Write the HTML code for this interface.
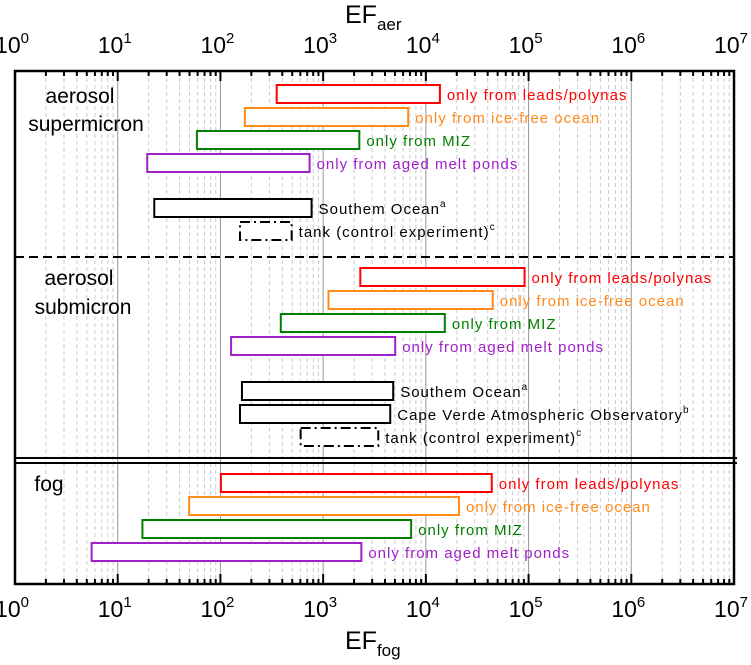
<!DOCTYPE html>
<html><head><meta charset="utf-8"><style>
body{margin:0;background:#fff;}
svg text{font-family:"Liberation Sans",Arial,sans-serif;}
</style></head><body>
<svg id="chart" width="751" height="660" viewBox="0 0 751 660" xmlns="http://www.w3.org/2000/svg">
<g id="grid"></g>
<g id="bars"></g>
<g id="axes"></g>
<text x="80" y="103" font-size="21" text-anchor="middle">aerosol</text>
<text x="86" y="131" font-size="21" text-anchor="middle">supermicron</text>
<text x="79" y="285" font-size="21" text-anchor="middle">aerosol</text>
<text x="83" y="314" font-size="21" text-anchor="middle">submicron</text>
<text x="49" y="491" font-size="21" text-anchor="middle">fog</text>
<text x="345" y="23" font-size="25">EF<tspan font-size="17" dy="7">aer</tspan></text>
<text x="345" y="649" font-size="25">EF<tspan font-size="17" dy="7">fog</tspan></text>
</svg>
<script>
const decades = [0,1,2,3,4,5,6,7];
const labels = ["only from leads/polynas","only from ice-free ocean","only from MIZ","only from aged melt ponds","Southem Ocean","Cape Verde Atmospheric Observatory","tank (control experiment)"];
const supers = ["","","","","a","b","c"];
const colors = ["#ff0000","#ff8a1a","#007f00","#a020c8","#000000","#000000","#000000"];
const barSeries = [0,1,2,3,4,6, 0,1,2,3,4,5,6, 0,1,2,3];
const barLow  = [353,173,59,19.4,22.7,155, 2300,1128,387,127,162,155,604, 101,49.6,17.4,5.57];
const barHigh = [13700,6730,2250,738,772,494, 91400,44800,15300,5030,4810,4500,3440, 43800,21000,7190,2355];
const barRow  = [0,1,2,3,5,6, 0,1,2,3,5,6,7, 0,1,2,3];
const barGroup= [0,0,0,0,0,0, 1,1,1,1,1,1,1, 2,2,2,2];
const groupTop = [85,268,474];
const rowStep = 23;
const X0=15, X1=734, Y0=71, Y1=584;
function xs(v){return X0+(Math.log10(v)-decades[0])/(decades[decades.length-1]-decades[0])*(X1-X0);}
const NS="http://www.w3.org/2000/svg";
function mk(tag,attrs,parent){const e=document.createElementNS(NS,tag);for(const k in attrs)e.setAttribute(k,attrs[k]);parent.appendChild(e);return e;}
const grid=document.getElementById('grid'), axes=document.getElementById('axes'), bars=document.getElementById('bars');
for(let d=decades[0];d<decades[decades.length-1];d++){
  for(let m=1;m<10;m++){
    const x=xs(m*Math.pow(10,d));
    if(m===1){ if(d>decades[0]){const l=mk('line',{x1:x,x2:x,y1:Y0,y2:Y1,stroke:'#999','stroke-width':1},grid);
      
      }}
    else{const l=mk('line',{x1:x,x2:x,y1:Y0,y2:Y1,stroke:'#ccc','stroke-width':1,'stroke-dasharray':'4,3'},grid);
      
      }
    const len=m===1?10:5;
    mk('line',{x1:x,x2:x,y1:Y0,y2:Y0+len,stroke:'#000','stroke-width':2},axes);
    mk('line',{x1:x,x2:x,y1:Y1,y2:Y1-len,stroke:'#000','stroke-width':2},axes);
  }
}
decades.forEach(d=>{
  const x=xs(Math.pow(10,d));
  [53,617].forEach((y,i)=>{
    const t=mk('text',{x:x-3,y:y,'font-size':23,'text-anchor':'middle'},axes);
    
    
    t.innerHTML='10<tspan font-size="15" dy="-10">'+d+'</tspan>';
  });
});
const frame=mk('rect',{x:X0,y:Y0,width:X1-X0,height:Y1-Y0,fill:'none',stroke:'#000','stroke-width':2.5},axes);


const dl=mk('line',{x1:X0,x2:X1,y1:257,y2:257,stroke:'#000','stroke-width':2,'stroke-dasharray':'9,5'},axes);


[458,463].forEach(y=>{const l=mk('line',{x1:X0,x2:X1+3,y1:y,y2:y,stroke:'#000','stroke-width':2},axes);
  
  });
barSeries.forEach((s,i)=>{
  const x1=xs(barLow[i]), x2=xs(barHigh[i]);
  const yy = barRow[i]<5 ? groupTop[barGroup[i]]+barRow[i]*rowStep : groupTop[barGroup[i]]+114+(barRow[i]-5)*rowStep;
  const r=mk('rect',{x:x1,y:yy,width:x2-x1,height:18,fill:'#fff',stroke:colors[s],'stroke-width':2},bars);
  if(s===6) r.setAttribute('stroke-dasharray','10,4,2,4');
  
  
  const t=mk('text',{x:x2+7,y:yy+15,'font-size':15,'letter-spacing':'1',fill:colors[s]},bars);
  
  
  t.innerHTML=labels[s]+(supers[s]?'<tspan font-size="10" dy="-7">'+supers[s]+'</tspan>':'');
});
</script>
</body></html>
